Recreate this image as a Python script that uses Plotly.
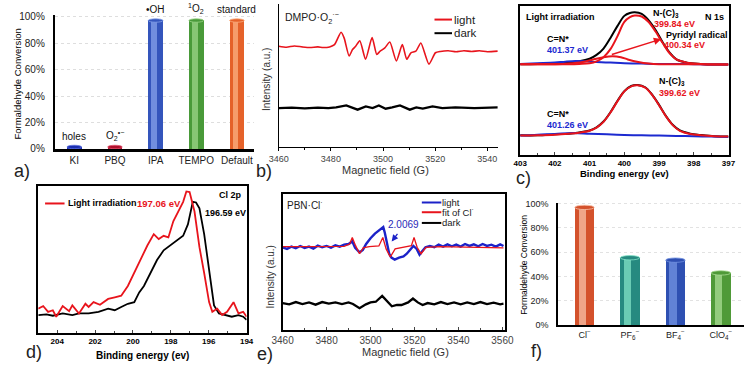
import plotly.graph_objects as go

W, H = 756, 371
FONT = "Arial, Liberation Sans, sans-serif"

# ---- a) scavenger experiments ----
scav_agents = ["KI", "PBQ", "IPA", "TEMPO", "Default"]
scav_conv = [0.015, 0.015, 0.97, 0.97, 0.97]
scav_species = ["holes", "O<sub>2</sub><sup>•−</sup>", "•OH", "<sup>1</sup>O<sub>2</sub>", "standard"]
scav_dark = ["#1c2fb0", "#b0102c", "#3556bd", "#4a9a3a", "#e5622a"]
scav_light = ["#5a6ee0", "#e0506c", "#86a2ea", "#9cd488", "#fbb182"]

# ---- b) EPR, DMPO-O2 ----
dmpo_field = [3460, 3463, 3466, 3469, 3472, 3475, 3477, 3479.5, 3481.4, 3483.9,
              3485.1, 3487.0, 3488.3, 3489.5, 3491.1, 3493.3, 3495.8, 3497.6, 3498.9, 3500.7,
              3502.6, 3505.1, 3507.4, 3509.1, 3510.7, 3512.6, 3514.5, 3517.6, 3520.1, 3522,
              3525, 3528, 3531, 3534, 3537, 3540, 3544]
dmpo_light = [320, 317, 321, 318, 316, 318, 316, 318, 325, 363,
              345, 290, 310, 320, 337, 280, 347, 295, 305, 315,
              333, 275, 325, 280, 300, 305, 330, 265, 300, 304,
              306, 303, 306, 304, 306, 303, 305]
dmpo_dark_field = [3460, 3465, 3470, 3475, 3479, 3482, 3485.9, 3488, 3490.25, 3493.4,
                   3496, 3498.4, 3501, 3503.5, 3506.5, 3510.25, 3512.75, 3515.25, 3519, 3522.75,
                   3527.75, 3535, 3544]
dmpo_dark = [130, 131, 129, 131, 130, 132, 138, 132, 125, 135,
             130, 138, 128, 132, 138, 125, 132, 128, 135, 130,
             132, 130, 132]

# ---- c) N 1s XPS ----
n1s_up_be = [403.0, 402.5, 402.0, 401.6, 401.3, 401.0, 400.8, 400.6, 400.4, 400.2,
             400.0, 399.84, 399.7, 399.5, 399.3, 399.1, 398.9, 398.7, 398.5, 398.2,
             397.8, 397.4, 397.0]
n1s_up_raw = [293, 294, 296, 299, 302, 310, 322, 342, 375, 412,
              444, 453, 455, 450, 430, 400, 362, 330, 308, 298,
              294, 292, 292]
n1s_up_main = [293, 293, 293, 293, 294, 296, 302, 315, 340, 380,
               425, 440, 445, 442, 425, 395, 360, 328, 308, 298,
               294, 292, 292]
n1s_rad_be = [403.0, 402.0, 401.6, 401.2, 400.9, 400.6, 400.34, 400.1, 399.9, 399.6,
              399.3, 399.0, 398.0, 397.0]
n1s_rad = [293, 293, 295, 300, 308, 315, 318, 315, 308, 300,
           295, 293, 293, 292]
n1s_cn_up_be = [403.0, 402.5, 402.0, 401.7, 401.4, 401.1, 400.8, 400.4, 400.0, 399.5,
                399.0, 398.5, 398.0, 397.5, 397.0]
n1s_cn_up = [294, 296, 298, 301, 303, 302, 300, 298, 296, 295,
             294, 294, 293, 292, 292]
n1s_lo_be = [403.0, 402.5, 402.0, 401.6, 401.3, 401.0, 400.8, 400.6, 400.4, 400.2,
             400.0, 399.8, 399.62, 399.4, 399.2, 399.0, 398.8, 398.6, 398.4, 398.1,
             397.8, 397.4, 397.0]
n1s_lo_raw = [71, 71, 74, 76, 80, 86, 96, 114, 143, 178,
              209, 225, 228, 221, 198, 166, 131, 103, 86, 76,
              72, 68, 67]
n1s_lo_fit = [70, 71, 73, 76, 79, 85, 95, 113, 142, 177,
              208, 224, 227, 220, 197, 165, 130, 102, 85, 75,
              71, 68, 67]
n1s_cn_lo_be = [403.0, 402.5, 402.0, 401.5, 401.0, 400.5, 400.0, 399.5, 399.0, 398.5,
                398.0, 397.5, 397.0]
n1s_cn_lo = [70, 73, 75, 78, 76, 74, 72, 71, 70, 69, 68, 67, 66]

# ---- d) Cl 2p XPS ----
cl_light_be = [205.0, 204.74, 204.48, 204.23, 204.05, 203.71, 203.37, 203.2, 202.85, 202.51,
               202.34, 202.08, 201.74, 201.31, 200.96, 200.62, 200.27, 199.93, 199.59, 199.24,
               198.9, 198.64, 198.38, 198.13, 197.87, 197.61, 197.35, 197.18, 197.01, 196.75,
               196.49, 196.24, 195.98, 195.81, 195.55, 195.29, 195.03, 194.69, 194.43, 194.18,
               194.0]
cl_light = [80, 88, 70, 75, 55, 88, 72, 90, 65, 95,
            85, 100, 92, 110, 115, 120, 150, 190, 235, 275,
            310, 295, 305, 300, 350, 380, 410, 442, 440, 380,
            270, 190, 100, 70, 80, 60, 70, 100, 65, 70,
            55]
cl_dark_be = [205.0, 204.57, 204.23, 203.71, 203.2, 202.85, 202.34, 201.82, 201.31, 200.96,
              200.62, 200.27, 199.93, 199.67, 199.42, 199.07, 198.73, 198.38, 198.04, 197.7,
              197.35, 197.1, 196.84, 196.67, 196.49, 196.24, 195.98, 195.72, 195.46, 195.12,
              194.78, 194.43, 194.18, 194.0]
cl_dark = [60, 62, 58, 65, 60, 65, 65, 70, 80, 75,
           85, 95, 100, 130, 150, 190, 230, 260, 275, 290,
           305, 340, 410, 408, 390, 310, 200, 90, 65, 60,
           55, 60, 55, 45]

# ---- e) EPR, PBN-Cl ----
pbn_light_field = [3460, 3462, 3464, 3466, 3468, 3470, 3472, 3474, 3476, 3478,
                   3480, 3482, 3484, 3486, 3488, 3490, 3491.7, 3493, 3495, 3496.5,
                   3498, 3500, 3502, 3503.5, 3505, 3505.8, 3506.5, 3507.5, 3508.5, 3509.5,
                   3511, 3513, 3515, 3516.5, 3518, 3519.5, 3521, 3522.3, 3523.5, 3525,
                   3527, 3529, 3531, 3533, 3535, 3537, 3539, 3541, 3543, 3545,
                   3547, 3549, 3551, 3553, 3555, 3557, 3559, 3560.5]
pbn_light = [270, 265, 272, 267, 274, 268, 272, 266, 275, 270,
             274, 269, 276, 272, 278, 280, 288, 268, 254, 262,
             280, 298, 312, 320, 328, 332, 315, 280, 250, 238,
             232, 238, 242, 250, 262, 274, 265, 247, 258, 270,
             274, 270, 278, 272, 279, 273, 278, 272, 280, 274,
             279, 273, 280, 274, 278, 272, 279, 274]
pbn_fit_field = [3460, 3470, 3480, 3488, 3490.5, 3491.7, 3493.2, 3495, 3496.7, 3499.4,
                 3503.8, 3505.6, 3507.1, 3509, 3511.2, 3515.6, 3518.6, 3519.8, 3521.2, 3523,
                 3525.2, 3531.8, 3545, 3560.5]
pbn_fit = [272, 272, 272, 273, 280, 300, 275, 250, 268, 272,
           274, 300, 265, 240, 265, 272, 275, 300, 270, 250,
           270, 272, 270, 268]
pbn_dark_field = [3460, 3463, 3466, 3469, 3472, 3475, 3478, 3481, 3484, 3487,
                  3490, 3492, 3495, 3497.9, 3500, 3502.4, 3505.3, 3507.5, 3509.7, 3512,
                  3514.1, 3517.1, 3519.3, 3521.5, 3523.7, 3526, 3529, 3532, 3535, 3538,
                  3541, 3544, 3547, 3550, 3553, 3556, 3559, 3560.5]
pbn_dark = [98, 94, 101, 95, 100, 93, 101, 96, 100, 95,
            100, 95, 82, 94, 100, 102, 120, 105, 88, 92,
            92, 100, 112, 100, 92, 98, 94, 101, 95, 100,
            94, 100, 95, 101, 95, 99, 94, 96]

# ---- f) counter-anion effect ----
anions = ["Cl<sup>−</sup>", "PF<sub>6</sub><sup>−</sup>", "BF<sub>4</sub><sup>−</sup>",
          "ClO<sub>4</sub><sup>−</sup>"]
anion_conv = [0.97, 0.555, 0.535, 0.43]
anion_dark = ["#d4522c", "#278a80", "#2f50b2", "#4f9a38"]
anion_light = ["#f8c2a8", "#82e2c6", "#7393e2", "#aadc94"]


def dx(a, b):
    return [a / W, b / W]


def dy(top, bottom):
    return [1 - bottom / H, 1 - top / H]


def text(fig, x, y, s, size=9, color="black", bold=False, xanchor="left", angle=0):
    fig.add_annotation(
        x=x / W, y=1 - y / H, xref="paper", yref="paper", text=s, showarrow=False,
        xanchor=xanchor, yanchor="middle", textangle=angle,
        font=dict(family=FONT, size=size, color=color, weight="bold" if bold else "normal"),
    )


def key(fig, x0, x1, y, color, width=2):
    fig.add_shape(type="line", xref="paper", yref="paper", x0=x0 / W, x1=x1 / W,
                  y0=1 - y / H, y1=1 - y / H, line=dict(color=color, width=width))


def cylinders(fig, vals, dark, light, width, xa, ya, cap_h):
    xs = list(range(len(vals)))
    fig.add_trace(go.Bar(x=xs, y=vals, width=width, marker=dict(color=dark, line_width=0),
                         xaxis=xa, yaxis=ya, showlegend=False))
    fig.add_trace(go.Bar(x=xs, y=vals, width=width * 0.38, offset=-width * 0.3,
                         marker=dict(color=light, line_width=0), opacity=0.75,
                         xaxis=xa, yaxis=ya, showlegend=False))
    for i, v in enumerate(vals):
        fig.add_shape(type="circle", xref=xa, yref=ya, x0=i - width / 2, x1=i + width / 2,
                      y0=v - cap_h, y1=v + cap_h, fillcolor=dark[i],
                      line=dict(color=light[i], width=0.8), layer="above")


fig = go.Figure()

# a)
cylinders(fig, scav_conv, scav_dark, scav_light, 0.36, "x", "y", 0.013)
for i, (v, s) in enumerate(zip(scav_conv, scav_species)):
    fig.add_annotation(x=i, y=v, xref="x", yref="y", text=s, showarrow=False,
                       yanchor="bottom", yshift=3, font=dict(family=FONT, size=10, color="#111"))

# b)
fig.add_trace(go.Scatter(x=dmpo_field, y=dmpo_light, mode="lines",
                         line=dict(color="#e8141c", width=1.6, shape="spline", smoothing=0.6),
                         xaxis="x2", yaxis="y2", showlegend=False))
fig.add_trace(go.Scatter(x=dmpo_dark_field, y=dmpo_dark, mode="lines", line=dict(color="black", width=2.3),
                         xaxis="x2", yaxis="y2", showlegend=False))

# c)
for xs, ys, col in [(n1s_up_be, n1s_up_raw, "black"), (n1s_cn_up_be, n1s_cn_up, "#1c2ad0"),
                    (n1s_up_be, n1s_up_main, "#e8141c"), (n1s_rad_be, n1s_rad, "#e8141c"),
                    (n1s_lo_be, n1s_lo_raw, "black"), (n1s_cn_lo_be, n1s_cn_lo, "#1c2ad0"),
                    (n1s_lo_be, n1s_lo_fit, "#e8141c")]:
    fig.add_trace(go.Scatter(x=xs, y=ys, mode="lines", line=dict(color=col, width=2, shape="spline"),
                             xaxis="x3", yaxis="y3", showlegend=False))

# d)
fig.add_trace(go.Scatter(x=cl_dark_be, y=cl_dark, mode="lines", line=dict(color="black", width=1.8),
                         xaxis="x4", yaxis="y4", showlegend=False))
fig.add_trace(go.Scatter(x=cl_light_be, y=cl_light, mode="lines", line=dict(color="#e8141c", width=1.8),
                         xaxis="x4", yaxis="y4", showlegend=False))

# e)
fig.add_trace(go.Scatter(x=pbn_light_field, y=pbn_light, mode="lines", line=dict(color="#1c22c8", width=2.4),
                         xaxis="x5", yaxis="y5", showlegend=False))
fig.add_trace(go.Scatter(x=pbn_fit_field, y=pbn_fit, mode="lines", line=dict(color="#e8141c", width=1.3),
                         xaxis="x5", yaxis="y5", showlegend=False))
fig.add_trace(go.Scatter(x=pbn_dark_field, y=pbn_dark, mode="lines", line=dict(color="black", width=2.3),
                         xaxis="x5", yaxis="y5", showlegend=False))

# f)
cylinders(fig, anion_conv, anion_dark, anion_light, 0.43, "x6", "y6", 0.018)

tick_font = dict(family=FONT, size=10, color="#222")
bold8 = dict(family=FONT, size=8, color="black", weight="bold")
plain = dict(showgrid=False, zeroline=False)
box = dict(showline=True, linecolor="black", linewidth=1.5, mirror=True, **plain)

fig.update_layout(
    width=W, height=H, margin=dict(l=0, r=0, t=0, b=0),
    paper_bgcolor="white", plot_bgcolor="white", barmode="overlay", bargap=0,
    font=dict(family=FONT, color="black"), showlegend=False,
    xaxis=dict(domain=dx(45, 250), range=[-0.48, 4.43], tickvals=list(range(len(scav_agents))),
               ticktext=scav_agents, showline=True, linecolor="black", linewidth=2.5,
               ticks="", tickfont=tick_font, anchor="y", **plain),
    yaxis=dict(domain=dy(11.5, 149), range=[0, 1.01], dtick=0.2, tickformat=".0%",
               showline=True, linecolor="black", linewidth=2, ticks="", ticklabelstandoff=6,
               showgrid=True, gridcolor="#dedede", griddash="dot", zeroline=False,
               tickfont=tick_font, anchor="x"),
    xaxis2=dict(domain=dx(275, 500), range=[3460, 3544], dtick=20, showline=True, linecolor="black",
                linewidth=1.3, ticks="outside", ticklen=3, tickcolor="black",
                minor=dict(dtick=10, ticks="outside", ticklen=2), tickfont=dict(family=FONT, size=9, color="#444"),
                anchor="y2", **plain),
    yaxis2=dict(domain=dy(0, 147), range=[10, 450], showline=True, linecolor="black", linewidth=1.3,
                showticklabels=False, ticks="", anchor="x2", **plain),
    xaxis3=dict(domain=dx(523, 737), range=[403, 397], dtick=1, ticks="inside", ticklen=3,
                minor=dict(dtick=0.5, ticks="inside", ticklen=2), tickfont=bold8, anchor="y3", **box),
    yaxis3=dict(domain=dy(2, 155), range=[10, 475], showticklabels=False, ticks="", anchor="x3", **box),
    xaxis4=dict(domain=dx(28, 242), range=[205, 194], dtick=2, ticks="inside", ticklen=3,
                minor=dict(dtick=1, ticks="inside", ticklen=2), tickfont=bold8, anchor="y4", **box),
    yaxis4=dict(domain=dy(187, 338), range=[5, 459], showticklabels=False, ticks="", anchor="x4", **box),
    xaxis5=dict(domain=dx(279, 507), range=[3460, 3561], dtick=20, ticks="inside", ticklen=3,
                minor=dict(dtick=10, ticks="inside", ticklen=2), tickfont=dict(family=FONT, size=10, color="#444"),
                anchor="y5", **box),
    yaxis5=dict(domain=dy(195, 335), range=[15, 435], showticklabels=False, ticks="", anchor="x5", **box),
    xaxis6=dict(domain=dx(562, 753), range=[-0.58, 3.51], tickvals=list(range(len(anions))),
                ticktext=anions, showline=True, linecolor="black", linewidth=2, ticks="",
                tickfont=dict(family=FONT, size=9, color="#222"), anchor="y6", **plain),
    yaxis6=dict(domain=dy(204, 330), range=[0, 1.01], dtick=0.2, tickformat=".0%",
                showline=True, linecolor="black", linewidth=1.5, ticks="", ticklabelstandoff=6,
                showgrid=True, gridcolor="#e2e2e2", griddash="dot", zeroline=False,
                tickfont=dict(family=FONT, size=9, color="#222"), anchor="x6"),
)

# axis titles
text(fig, 7, 82, "Formaldehyde Conversion", size=9.5, xanchor="center", angle=-90)
text(fig, 263, 78, "Intensity (a.u.)", size=10, color="#333", xanchor="center", angle=-90)
text(fig, 385, 171, "Magnetic field (G)", size=11, color="#333", xanchor="center")
text(fig, 630, 174, "Binding energy (ev)", size=9.5, bold=True, xanchor="center")
text(fig, 135, 361, "Binding energy (ev)", size=10, bold=True, xanchor="center")
text(fig, 266, 280, "Intensity (a.u.)", size=10, color="#333", xanchor="center", angle=-90)
text(fig, 405, 358, "Magnetic field (G)", size=11, color="#333", xanchor="center")
text(fig, 527, 268, "Formaldehyde Conversion", size=8.5, xanchor="center", angle=-90)

# panel letters
for x, y, s in [(1, 172, "a)"), (250, 172, "b)"), (517, 179, "c)"),
                (13, 358, "d)"), (251, 360, "e)"), (532, 357, "f)")]:
    text(fig, x, y, s, size=18, color="#222")

# b) labels and legend
text(fig, 279, 14, "DMPO·O<sub>2</sub><sup>·−</sup>", size=10.5, color="#222")
key(fig, 435, 453, 16, "#e8141c")
key(fig, 435, 453, 30, "black")
text(fig, 453, 16, "light", size=11.5, color="#222")
text(fig, 453, 30, "dark", size=11.5, color="#222")

# c) labels
text(fig, 527, 13, "Light irradiation", size=9, bold=True)
text(fig, 734, 13, "N 1s", size=9, bold=True, xanchor="right")
text(fig, 657, 10, "N-(C)<sub>3</sub>", size=9, bold=True)
text(fig, 658, 21, "399.84 eV", size=9, bold=True, color="#e8141c")
text(fig, 671, 32, "Pyridyl radical", size=9, bold=True)
text(fig, 669, 42, "400.34 eV", size=9, bold=True, color="#e8141c")
text(fig, 549, 36, "C=N*", size=9, bold=True)
text(fig, 549, 47, "401.37 eV", size=9, bold=True, color="#1c2ad0")
text(fig, 664, 80, "N-(C)<sub>3</sub>", size=9, bold=True)
text(fig, 664, 91, "399.62 eV", size=9, bold=True, color="#e8141c")
text(fig, 549, 113, "C=N*", size=9, bold=True)
text(fig, 549, 124, "401.26 eV", size=9, bold=True, color="#1c2ad0")
fig.add_annotation(x=668 / W, y=1 - 36 / H, xref="paper", yref="paper", text="", showarrow=True,
                   ax=-51, ay=16, arrowcolor="#e8141c", arrowwidth=1.5, arrowhead=2, arrowsize=1)

# d) labels and legend
key(fig, 35, 55, 205, "#e8141c")
text(fig, 56, 205, "Light irradiation", size=9, bold=True)
text(fig, 127, 205, "197.06 eV", size=9.5, bold=True, color="#e8141c")
text(fig, 239, 196, "Cl 2p", size=9, bold=True, xanchor="right")
text(fig, 197, 215, "196.59 eV", size=9, bold=True)

# e) labels and legend
text(fig, 281, 207, "PBN·Cl<sup>·</sup>", size=10, color="#222")
key(fig, 422, 442, 204, "#1c22c8")
key(fig, 422, 442, 214, "#e8141c")
key(fig, 422, 442, 225, "black")
text(fig, 441, 204, "light", size=9.5, color="#222")
text(fig, 441, 214, "fit of Cl<sup>·</sup>", size=9.5, color="#222")
text(fig, 441, 225, "dark", size=9.5, color="#222")
text(fig, 385, 227, "2.0069", size=10, color="#2a2ab8")
fig.add_annotation(x=391 / W, y=1 - 244 / H, xref="paper", yref="paper", text="", showarrow=True,
                   ax=7, ay=-9, arrowcolor="#1c22c8", arrowwidth=1.3, arrowhead=2, arrowsize=1)

# the page body has a default 8px margin; drop it so the figure sits at the window origin
fig.write_html("out.html", config={"displayModeBar": False},
               post_script="document.body.style.margin = '0';")
